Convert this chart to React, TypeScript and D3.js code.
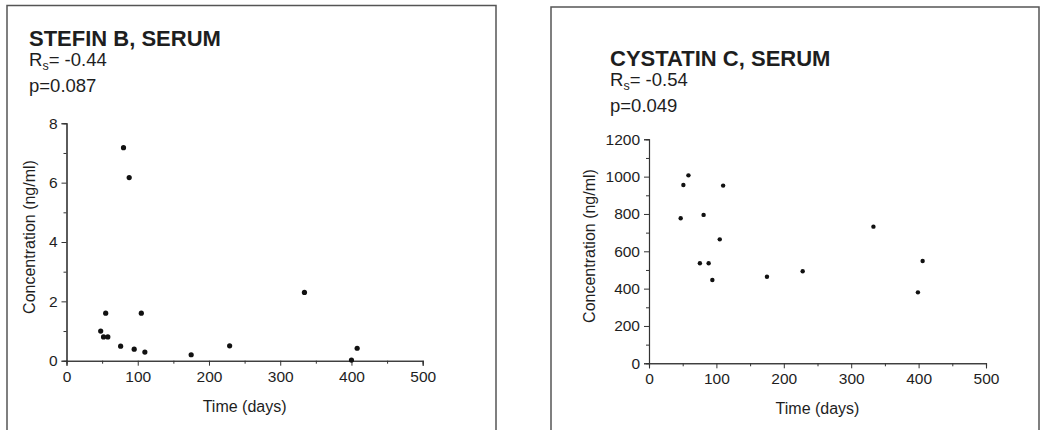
import React, { useEffect, useRef } from "react"
import * as d3 from "d3"

// time axis, shared by both panels
const xTicks = [0, 100, 200, 300, 400, 500]
const xMinor = [50, 150, 250, 350, 450]

// stefin B, serum
const stefinDays = [48, 52, 58, 55, 80, 88, 76, 95, 105, 110, 175, 229, 334, 400, 408]
const stefinConc = [1.0, 0.8, 0.8, 1.6, 7.18, 6.17, 0.49, 0.39, 1.6, 0.29, 0.2, 0.5, 2.3, 0.02, 0.42]
const stefinTicks = [0, 2, 4, 6, 8]
const stefinMinor = [1, 3, 5, 7]

// cystatin C, serum
const cystatinDays = [47, 51, 58.5, 81, 75.5, 88.5, 94, 105, 110, 175, 228, 333, 399, 406]
const cystatinConc = [777, 955, 1007, 795, 536, 536, 446, 664, 952, 464, 493, 732, 380, 548]
const cystatinTicks = [0, 200, 400, 600, 800, 1000, 1200]
const cystatinMinor = [100, 300, 500, 700, 900, 1100]

const FONT = "'Liberation Sans', Arial, sans-serif"
const INK = "#1e1e1e"

function Axis({ orient, scale, ticks, minor, transform }) {
  const ref = useRef(null)
  useEffect(() => {
    const g = d3.select(ref.current)
    g.selectAll("*").remove()
    const make = orient === "left" ? d3.axisLeft : d3.axisBottom
    const major = make(scale)
      .tickValues(ticks)
      .tickSize(5)
      .tickPadding(orient === "left" ? 4 : 5)
      .tickFormat(d3.format("d"))
    const small = make(scale).tickValues(minor).tickSize(3).tickFormat(() => "")
    g.append("g").call(small)
    g.append("g").call(major)
    g.selectAll(".domain").attr("stroke", "#333").attr("stroke-width", 1.1)
    g.selectAll(".tick line").attr("stroke", "#333")
    g.selectAll("g").attr("font-family", FONT).attr("font-size", 15.5)
    g.selectAll(".tick text").attr("fill", INK)
  }, [orient, scale, ticks, minor])
  return <g ref={ref} transform={transform} />
}

function Panel({ frame, plot, head, yLabel, title, rs, p, days, conc, yMax, yTicks, yMinor, r }) {
  const x = d3.scaleLinear().domain([0, 500]).range([plot.left, plot.right])
  const y = d3.scaleLinear().domain([0, yMax]).range([plot.bottom, plot.top])
  const framePath = `M${frame.x0},440 L${frame.x0},${frame.y} L${frame.x1},${frame.y} L${frame.x1},440`
  return (
    <g>
      <path d={framePath} fill="none" stroke="#555" strokeWidth={1.5} />
      <text x={head.x} y={head.y} fontFamily={FONT} fontWeight="bold" fontSize={22} fill={INK}>
        {title}
      </text>
      <text x={head.x} y={head.y + 20.5} fontFamily={FONT} fontSize={18.5} fill={INK}>
        R<tspan fontSize={12.5} dy={4}>s</tspan>
        <tspan dy={-4}>{"= " + rs}</tspan>
      </text>
      <text x={head.x} y={head.y + 46.5} fontFamily={FONT} fontSize={18.5} fill={INK}>
        {"p=" + p}
      </text>
      <Axis orient="left" scale={y} ticks={yTicks} minor={yMinor} transform={`translate(${plot.left},0)`} />
      <Axis orient="bottom" scale={x} ticks={xTicks} minor={xMinor} transform={`translate(0,${plot.bottom})`} />
      <text
        transform={`translate(${yLabel.x},${yLabel.y}) rotate(-90)`}
        textAnchor="middle"
        fontFamily={FONT}
        fontSize={16}
        fill={INK}
      >
        Concentration (ng/ml)
      </text>
      <text
        x={(plot.left + plot.right) / 2}
        y={plot.bottom + 51}
        textAnchor="middle"
        fontFamily={FONT}
        fontSize={16}
        fill={INK}
      >
        Time (days)
      </text>
      {days.map((d, i) => (
        <circle key={i} cx={x(d)} cy={y(conc[i])} r={r} fill="#111" />
      ))}
    </g>
  )
}

export default function App() {
  return (
    <svg width={1041} height={430} style={{ position: "absolute", left: 0, top: 0, background: "#fff" }}>
      <rect width={1041} height={430} fill="#fff" />
      <Panel
        frame={{ x0: 7, x1: 496, y: 5.5 }}
        plot={{ left: 66.5, right: 422.7, top: 123.3, bottom: 360.7 }}
        head={{ x: 29, y: 45.5 }}
        yLabel={{ x: 35, y: 237 }}
        title="STEFIN B, SERUM"
        rs="-0.44"
        p="0.087"
        days={stefinDays}
        conc={stefinConc}
        yMax={8}
        yTicks={stefinTicks}
        yMinor={stefinMinor}
        r={2.6}
      />
      <Panel
        frame={{ x0: 551, x1: 1039, y: 7 }}
        plot={{ left: 649, right: 986, top: 139.3, bottom: 363.3 }}
        head={{ x: 610, y: 65.5 }}
        yLabel={{ x: 595, y: 246 }}
        title="CYSTATIN C, SERUM"
        rs="-0.54"
        p="0.049"
        days={cystatinDays}
        conc={cystatinConc}
        yMax={1200}
        yTicks={cystatinTicks}
        yMinor={cystatinMinor}
        r={2.2}
      />
    </svg>
  )
}
